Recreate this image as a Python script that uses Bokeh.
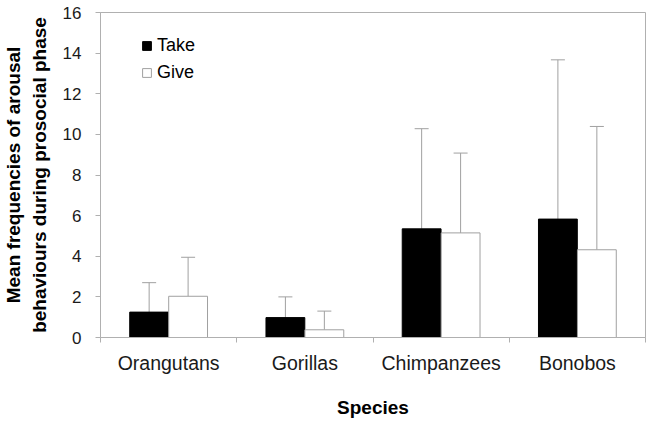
from bokeh.plotting import figure
from bokeh.models import Range1d, FixedTicker, Whisker, TeeHead, ColumnDataSource, Legend, LegendItem
from bokeh.embed import file_html
from bokeh.resources import INLINE

species = ["Orangutans", "Gorillas", "Chimpanzees", "Bonobos"]
take_mean = [1.25, 0.98, 5.35, 5.83]
give_mean = [2.03, 0.38, 5.15, 4.32]
take_sd = [1.45, 1.02, 4.93, 7.84]
give_sd = [1.92, 0.92, 3.93, 6.07]
y_ticks = [0, 2, 4, 6, 8, 10, 12, 14, 16]

FONT = "Liberation Sans"
GRAY = "#b0b0b0"
ERR = "#a0a0a0"
offset = 0.143
bw = 0.285

idx = list(range(len(species)))
take_src = ColumnDataSource(dict(
    x=[i - offset for i in idx], top=take_mean,
    lower=take_mean, upper=[m + s for m, s in zip(take_mean, take_sd)]))
give_src = ColumnDataSource(dict(
    x=[i + offset for i in idx], top=give_mean,
    lower=give_mean, upper=[m + s for m, s in zip(give_mean, give_sd)]))

p = figure(width=652, height=425, output_backend="svg", toolbar_location=None,
           x_range=Range1d(-0.5, len(species) - 0.5), y_range=Range1d(0, 16),
           min_border_left=99, min_border_right=7, min_border_top=12, min_border_bottom=88)
p.outline_line_color = GRAY
p.outline_line_width = 1
p.grid.visible = False
p.background_fill_color = "white"
p.border_fill_color = "white"

# error bars (upper only)
for src in (take_src, give_src):
    w = Whisker(source=src, base="x", lower="lower", upper="upper",
                line_color=ERR, line_width=1,
                upper_head=TeeHead(size=14, line_color=ERR, line_width=1),
                lower_head=None)
    p.add_layout(w)

r_take = p.vbar(x="x", top="top", width=bw, source=take_src,
                fill_color="black", line_color="black", line_width=1)
r_give = p.vbar(x="x", top="top", width=bw, source=give_src,
                fill_color="white", line_color=ERR, line_width=1)

# y axis
ya = p.yaxis[0]
ya.ticker = FixedTicker(ticks=y_ticks)
ya.axis_line_color = GRAY
ya.major_tick_line_color = GRAY
ya.major_tick_out = 5
ya.major_tick_in = 0
ya.minor_tick_line_color = None
ya.major_label_text_font = FONT
ya.major_label_text_font_size = "17px"
ya.major_label_text_color = "#1a1a1a"
ya.major_label_standoff = 14
ya.axis_label = "Mean frequencies of arousal\nbehaviours during prosocial phase"
ya.axis_label_text_font = FONT
ya.axis_label_text_font_size = "19px"
ya.axis_label_text_font_style = "bold"
ya.axis_label_text_color = "black"
ya.axis_label_standoff = 10

# x axis
xa = p.xaxis[0]
xa.ticker = FixedTicker(ticks=idx, minor_ticks=[i - 0.5 for i in range(len(species) + 1)])
xa.major_label_overrides = {i: s for i, s in zip(idx, species)}
xa.axis_line_color = GRAY
xa.major_tick_line_color = None
xa.minor_tick_line_color = GRAY
xa.minor_tick_out = 5
xa.minor_tick_in = 0
xa.major_label_text_font = FONT
xa.major_label_text_font_size = "19.5px"
xa.major_label_text_color = "#1a1a1a"
xa.major_label_standoff = 8
xa.axis_label = "Species"
xa.axis_label_text_font = FONT
xa.axis_label_text_font_size = "19px"
xa.axis_label_text_font_style = "bold"
xa.axis_label_text_color = "black"
xa.axis_label_standoff = 20

legend = Legend(items=[LegendItem(label="Take", renderers=[r_take]),
                       LegendItem(label="Give", renderers=[r_give])],
                location=(41, 254), padding=0, margin=0, spacing=5,
                glyph_width=11, glyph_height=11, label_height=22,
                label_standoff=5, label_text_font=FONT, label_text_font_size="18px",
                label_text_color="black",
                border_line_color=None, background_fill_alpha=0)
p.add_layout(legend)

open("out.html", "w").write(file_html(p, INLINE))
